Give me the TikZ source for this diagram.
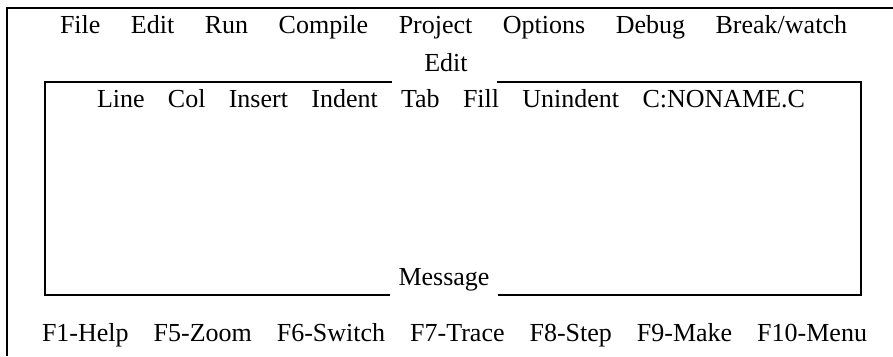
\documentclass[tikz,border=0pt]{standalone}
\usepackage{fontspec}
\setmainfont{Liberation Serif}
\begin{document}
\begin{tikzpicture}[x=1pt,y=-1pt,
  frame/.style={line width=1.3pt,black},
  lbl/.style={inner sep=0pt,anchor=base,font=\fontsize{26}{30}\selectfont}]
\useasboundingbox (0,0) rectangle (893,356);
% outer window frame (cut off at right and bottom)
\coordinate (oTR) at (893,8);
\coordinate (oTL) at (7,8);
\coordinate (oBL) at (7,356);
\draw[frame] (oTR) -- (oTL) -- (oBL);
% menu bar
\node[lbl] (menu) at (453.5,33) {\makebox[787pt][s]{File Edit Run Compile Project Options Debug Break/watch}};
% edit window
\coordinate (iTL) at (45,82);
\coordinate (iTR) at (861,82);
\coordinate (iBR) at (861,295);
\coordinate (iBL) at (45,295);
\coordinate (gTL) at (392,82);
\coordinate (gTR) at (497,82);
\coordinate (gBL) at (390,295);
\coordinate (gBR) at (498,295);
\node[lbl] (edit) at (446,71) {Edit};
\node[lbl] (msg) at (444,285) {Message};
\draw[frame] (gTL) -- (iTL) -- (iBL) -- (gBL);
\draw[frame] (gTR) -- (iTR) -- (iBR) -- (gBR);
\node[lbl] (status) at (451,107) {\makebox[708pt][s]{Line Col Insert Indent Tab Fill Unindent C:NONAME.C}};
% function key line
\node[lbl] (keys) at (454.5,341) {\makebox[825pt][s]{F1-Help F5-Zoom F6-Switch F7-Trace F8-Step F9-Make F10-Menu}};
\end{tikzpicture}
\end{document}
